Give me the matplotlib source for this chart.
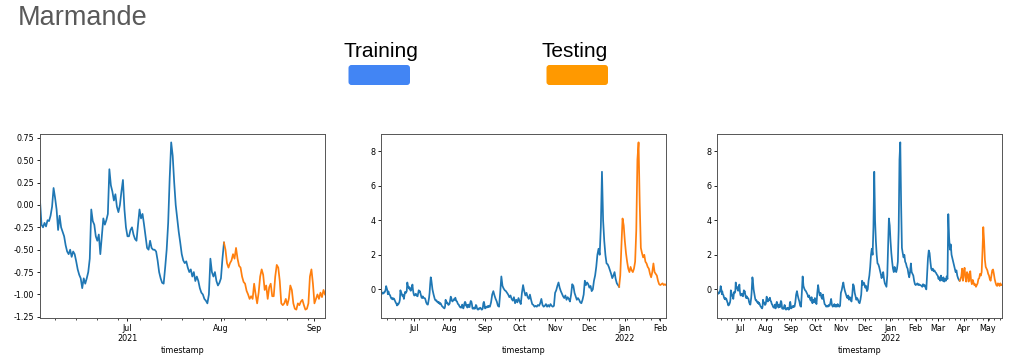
import numpy as np
import pandas as pd
import matplotlib
matplotlib.use('Agg')
import matplotlib.pyplot as plt
import matplotlib.dates as mdates
from matplotlib.patches import FancyBboxPatch
from matplotlib.transforms import IdentityTransform

# summer 2021, one reading every 12 hours (from 2021-06-02 18:00)
summer_2021 = [
    0.05, -0.22, -0.25, -0.2, -0.24, -0.17, -0.18, -0.12, -0.02, 0.19,
    0.08, -0.05, -0.28, -0.12, -0.25, -0.3, -0.35, -0.45, -0.52, -0.55,
    -0.5, -0.58, -0.52, -0.55, -0.63, -0.72, -0.78, -0.82, -0.93, -0.82,
    -0.88, -0.82, -0.75, -0.6, -0.05, -0.18, -0.22, -0.35, -0.4, -0.33,
    -0.55, -0.35, -0.15, -0.22, -0.17, -0.1, 0.4, 0.22, 0.15, 0.05,
    0.12, -0.02, -0.08, 0.0, 0.15, 0.28, -0.05, -0.25, -0.35, -0.35,
    -0.28, -0.25, -0.33, -0.38, -0.4, -0.22, -0.05, -0.15, -0.1, -0.22,
    -0.35, -0.48, -0.5, -0.4, -0.48, -0.5, -0.5, -0.52, -0.62, -0.75,
    -0.82, -0.87, -0.88, -0.7, -0.5, -0.2, 0.3, 0.7, 0.55, 0.25,
    0.0, -0.15, -0.3, -0.42, -0.55, -0.62, -0.65, -0.63, -0.7, -0.75,
    -0.72, -0.8, -0.75, -0.85, -0.8, -0.85, -0.93, -0.98, -1.0, -1.05,
    -1.07, -1.1, -1.0, -0.6, -0.75, -0.8, -0.75, -0.85, -0.9, -0.87,
    -0.82, -0.6, -0.42, -0.5, -0.65, -0.7, -0.65, -0.62, -0.55, -0.6,
    -0.48, -0.6, -0.68, -0.7, -0.8, -0.86, -0.88, -0.96, -1.0, -1.05,
    -1.02, -1.05, -0.88, -1.0, -1.1, -0.98, -0.8, -0.72, -0.78, -0.95,
    -0.9, -1.05, -0.92, -0.88, -1.02, -1.02, -0.8, -0.67, -0.7, -0.85,
    -1.1, -1.12, -1.1, -1.05, -1.12, -1.05, -0.9, -0.95, -1.1, -1.16,
    -1.17, -1.1, -1.12, -1.08, -1.06, -1.12, -1.17, -1.16, -1.1, -0.8,
    -0.72, -0.88, -1.1, -1.05, -1.0, -1.05, -0.98, -1.03, -0.95, -1.0,
]

# daily readings from 2021-09-06
sep_2021 = [-1.0, -0.75, -0.3, -0.1, -0.35, -0.55, -0.7, -0.95, -1.0, -0.2,
            0.75, 0.2, 0.05, -0.05, -0.1, -0.2, -0.3, -0.45, -0.35, -0.55,
            -0.65, -0.45, -0.8, -0.6, -0.75]
oct_2021 = [-0.5, -0.7, -0.85, -0.2, 0.25, -0.1, -0.35, -0.2, -0.45, -0.55,
            -0.3, -0.6, -0.85, -0.9, -1.0, -0.95, -1.0, -0.9, -0.95, -0.8,
            -0.55, -0.9, -1.0, -0.95, -0.85, -1.0, -0.9, -1.0, -0.85, -0.95, -1.0]
nov_2021 = [-0.95, -0.2, -0.05, 0.2, 0.4, 0.1, -0.1, -0.25, -0.4, -0.5,
            -0.35, -0.6, -0.45, -0.55, -0.7, -0.3, 0.3, 0.2, -0.2, -0.4,
            -0.6, -0.5, -0.6, -0.75, -0.8, -0.6, -0.3, 0.5, 0.25, 0.4]
dec_2021 = [0.3, 0.1, 0.2, -0.1, 0.0, 0.5, 0.8, 1.3, 2.0, 2.35,
            2.0, 3.6, 6.8, 4.0, 2.8, 2.0, 1.5, 1.45, 1.3, 1.1,
            0.9, 0.65, 0.8, 1.0, 0.6, 0.35, 0.25, 0.15, 0.8, 2.5, 4.1]
jan_2022 = [3.7, 2.8, 2.1, 1.6, 1.2, 1.0, 1.3, 1.1, 1.0, 1.2,
            1.6, 3.4, 7.5, 8.5, 5.0, 2.4, 2.1, 1.85, 2.0, 1.6,
            1.5, 1.3, 1.2, 0.9, 0.7, 1.0, 1.5, 1.0, 0.9, 0.8, 0.5]
feb_2022 = [0.3, 0.25, 0.3, 0.35, 0.25, 0.3, 0.25, 0.25, 0.2, 0.15,
            0.3, 0.2, 0.25, 0.1, 0.0, 0.9, 1.8, 2.25, 2.1, 1.6,
            1.2, 1.1, 1.2, 1.05, 1.1, 1.0, 0.95, 0.85]
mar_2022 = [0.8, 0.6, 0.7, 0.5, 0.8, 0.55, 0.5, 0.7, 0.45, 0.6,
            0.5, 0.75, 0.6, 4.35, 3.0, 2.3, 2.6, 2.0, 1.8, 1.6,
            1.4, 1.2, 1.0, 1.1, 0.8, 0.65, 0.55, 0.5, 0.6, 0.75, 1.2]
apr_2022 = [0.5, 1.0, 1.25, 0.7, 0.45, 1.0, 0.9, 0.45, 0.8, 1.05,
            0.5, 0.3, 0.55, 0.4, 0.25, 0.3, 0.15, 0.25, 0.35, 0.6,
            0.65, 0.9, 0.8, 1.0, 2.2, 3.6, 2.8, 1.7, 1.3, 1.2]
may_2022 = [1.1, 0.9, 0.8, 0.6, 0.5, 0.8, 1.1, 1.15, 0.9, 0.6,
            0.4, 0.25, 0.2, 0.35, 0.3, 0.2, 0.35, 0.25, 0.25]

# (train/test split, end of window) for the three folds
split_dates = ['2021-08-02 18:00', '2021-12-28', '2022-03-28']
end_dates = ['2021-09-05 06:00', '2022-02-07', '2022-05-19']

yticks_small = [-1.25, -1.0, -0.75, -0.5, -0.25, 0.0, 0.25, 0.5, 0.75]
yticks_large = [0, 2, 4, 6, 8]

# build the series
idx_a = pd.date_range('2021-06-02 18:00', periods=len(summer_2021), freq='12h')
daily = sep_2021 + oct_2021 + nov_2021 + dec_2021 + jan_2022 + feb_2022 + mar_2022 + apr_2022 + may_2022
idx_b = pd.date_range('2021-09-06', periods=len(daily), freq='D')
series = pd.Series(summer_2021 + daily, index=idx_a.append(idx_b))
series.index.name = 'timestamp'

fig = plt.figure(figsize=(10.11, 3.6), dpi=100)
W, H = 1011, 360

# header
fig.text(18 / W, 1 - 25 / H, 'Marmande', fontsize=19.5, color='#595959',
         family='Liberation Sans', va='baseline')
fig.text(381 / W, 1 - 56.7 / H, 'Training', fontsize=15, color='black',
         family='Liberation Sans', va='baseline', ha='center')
fig.text(575 / W, 1 - 56.7 / H, 'Testing', fontsize=15, color='black',
         family='Liberation Sans', va='baseline', ha='center')
for x0, col in [(348.5, '#4285f4'), (546.5, '#ff9900')]:
    box = FancyBboxPatch((x0, H - 85), 61.5, 20, boxstyle='round,pad=0,rounding_size=3',
                         transform=IdentityTransform(), facecolor=col, edgecolor='none')
    fig.patches.append(box)

lefts = [40, 381, 717]
start = series.index[0]

for i in range(3):
    ax = fig.add_axes([lefts[i] / W, 42 / H, 285 / W, 184 / H])
    split = pd.Timestamp(split_dates[i])
    end = pd.Timestamp(end_dates[i])
    train = series[:split]
    test = series[split:end]
    ax.plot(train.index, train.values, color='#1f77b4', lw=1.25)
    ax.plot(test.index, test.values, color='#ff7f0e', lw=1.25)
    ax.set_xlim(start, end)

    # month ticks like pandas does
    months = pd.date_range(start, end, freq='MS')
    has_jan = any(m.month == 1 for m in months)
    labels = []
    for j, m in enumerate(months):
        if m.month == 1 or (j == 0 and not has_jan):
            labels.append(m.strftime('%b\n%Y'))
        else:
            labels.append(m.strftime('%b'))
    ax.set_xticks(mdates.date2num(months), labels)
    mondays = pd.date_range(start, end, freq='W-MON')
    ax.set_xticks(mdates.date2num(mondays), minor=True)

    if i == 0:
        ax.set_yticks(yticks_small, ['%.2f' % v for v in yticks_small])
    else:
        ax.set_yticks(yticks_large, [str(v) for v in yticks_large])

    ax.tick_params(which='major', labelsize=5.8, length=2.5, width=0.6, pad=1.5)
    ax.tick_params(which='minor', length=1.5, width=0.5)
    ax.set_xlabel('timestamp', fontsize=5.8, labelpad=2)
    for s in ax.spines.values():
        s.set_color('#555555')
        s.set_linewidth(0.7)

fig.savefig('out.png', dpi=100)
